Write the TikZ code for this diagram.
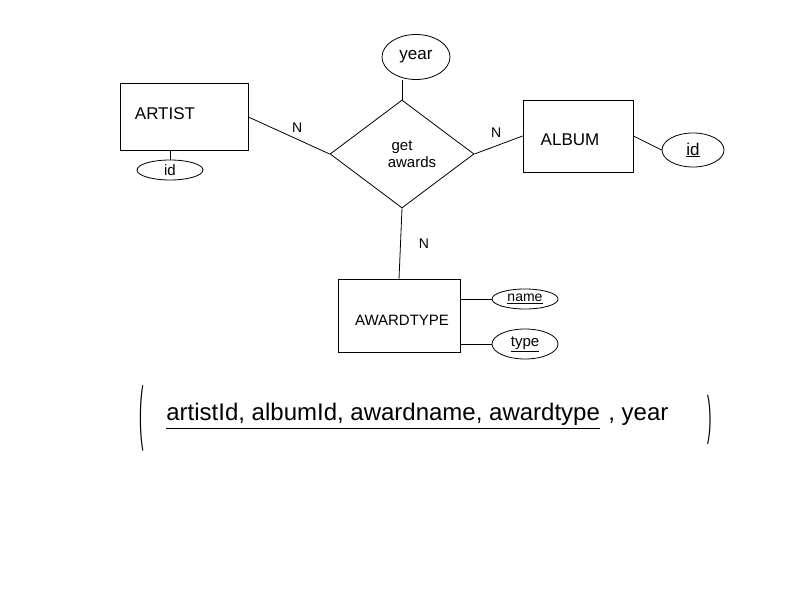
\documentclass[tikz,border=0pt]{standalone}
\usepackage{fontspec}
\setmainfont{Liberation Sans}
\usepackage{tikz}
\usetikzlibrary{shapes.geometric}

\begin{document}
\begin{tikzpicture}[x = 1pt, y = -1pt, line width = 0.8pt,
	entity/.style = {draw, rectangle, inner sep = 0pt},
	attr/.style = {draw, ellipse, inner sep = 0pt},
	rel/.style = {draw, diamond, inner sep = 0pt},
	word/.style = {inner sep = 0pt, font = \fontsize{17}{17}\selectfont},
	card/.style = {inner sep = 0pt, font = \fontsize{14}{14}\selectfont}]
	\useasboundingbox (0,0) rectangle (792,612);
	
	% entities
	\node[entity, minimum width = 128pt, minimum height = 67pt] (artist) at (184,117) {};
	\node[entity, minimum width = 110pt, minimum height = 72pt] (album) at (578,136) {};
	\node[entity, minimum width = 122pt, minimum height = 73pt] (awardtype) at (399,316) {};
	\node[word] (artisttext) at (165,114) {ARTIST};
	\node[word] (albumtext) at (570,140) {ALBUM};
	\node[word, font = \fontsize{15}{15}\selectfont] (awardtypetext) at (402,320) {AWARDTYPE};
	
	% relationship
	\node[rel, minimum width = 144pt, minimum height = 108pt, align = center, font = \fontsize{15}{17}\selectfont] (getawards) at (402,154) {get\\\hspace{20pt}awards};
	
	% attributes
	\node[attr, minimum width = 68pt, minimum height = 45pt, font = \fontsize{17}{17}\selectfont] (year) at (416,57) {year};
	\node[attr, minimum width = 66pt, minimum height = 20pt, font = \fontsize{15}{15}\selectfont] (artistid) at (170,170) {id};
	\node[attr, minimum width = 62pt, minimum height = 34pt, font = \fontsize{17}{17}\selectfont] (albumid) at (693,150) {\underline{id}};
	\node[attr, minimum width = 66pt, minimum height = 20pt, font = \fontsize{14}{14}\selectfont] (name) at (525,299) {\underline{name}};
	\node[attr, minimum width = 66pt, minimum height = 30pt, font = \fontsize{15}{15}\selectfont] (type) at (525,344) {\underline{type}};
	
	% links
	\draw (artist.east) -- node[card, pos = 0.6, above = 6pt] (n1) {N} (getawards.west);
	\draw (getawards.east) -- node[card, pos = 0.45, above = 8pt] (n2) {N} (album.west);
	\draw (getawards.south) -- node[card, right = 18pt] (n3) {N} (awardtype.north);
	\draw (getawards.north) -- (getawards.north |- year.south);
	\draw (artistid.north) -- (artistid.north |- artist.south);
	\draw (album.east) -- (albumid.west);
	\draw (awardtype.east |- name.west) -- (name.west);
	\draw (awardtype.east |- type.west) -- (type.west);
	
	% tuple
	\node[inner sep = 0pt, font = \fontsize{22}{22}\selectfont] (lparen) at (142,418) {\scalebox{0.6}[3.2]{(}};
	\node[inner sep = 0pt, font = \fontsize{22}{22}\selectfont] (rparen) at (710,420) {\scalebox{0.6}[2.4]{)}};
	\node[inner sep = 0pt, font = \fontsize{24}{24}\selectfont, anchor = base west] (keys) at (166,420) {artistId, albumId, awardname, awardtype};
	\node[inner sep = 0pt, font = \fontsize{24}{24}\selectfont, anchor = base west] (yeartext) at (608,420) {, year};
	\draw ([yshift = -3pt]keys.south west) -- ([yshift = -3pt]keys.south east);
	
\end{tikzpicture}
\end{document}
